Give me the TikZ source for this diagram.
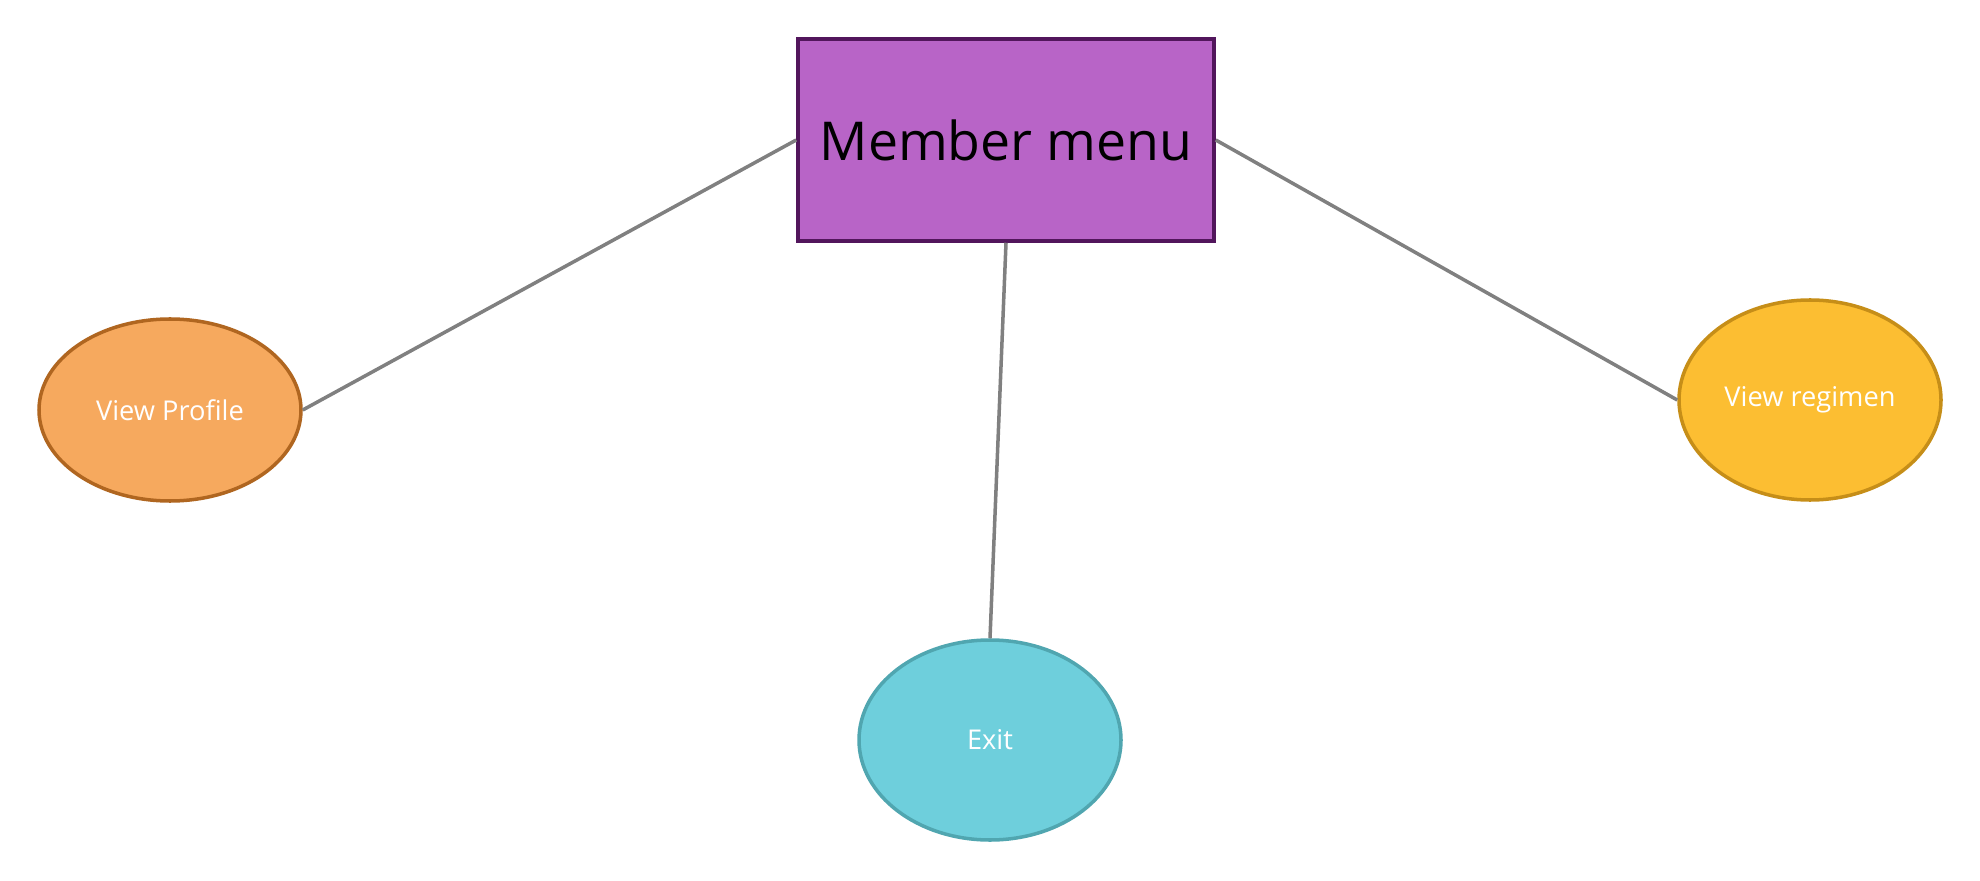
\documentclass[tikz,border=0pt]{standalone}
\usepackage{xcolor}
\usepackage{tikz}
\usepackage{fontspec}
\setmainfont{Open Sans}
\usetikzlibrary{shapes.geometric, positioning}
\definecolor{menufill}{RGB}{184, 100, 199}
\definecolor{menuedge}{RGB}{82, 22, 92}
\definecolor{profilefill}{RGB}{246, 169, 94}
\definecolor{profileedge}{RGB}{176, 102, 32}
\definecolor{regimenfill}{RGB}{252, 190, 50}
\definecolor{regimenedge}{RGB}{198, 142, 24}
\definecolor{exitfill}{RGB}{110, 207, 220}
\definecolor{exitedge}{RGB}{80, 166, 176}
\definecolor{linkgray}{RGB}{128, 128, 128}
\tikzset{
    option/.style={
        ellipse,
        line width=2pt,
        minimum width=262\px,
        minimum height=200\px,
        inner sep=0pt,
        text=white,
        font=\fontsize{15.5}{18}\selectfont
    },
    link/.style={draw=linkgray, line width=2pt}
}
\newlength{\px}
\setlength{\px}{0.02cm}

\begin{document}
\begin{tikzpicture}[x=0.02cm, y=-0.02cm]
    \useasboundingbox (0,0) rectangle (1980,881);
    % top box
    \node[
        draw=menuedge,
        fill=menufill,
        line width=2pt,
        minimum width=416\px,
        minimum height=202\px,
        inner sep=0pt,
        font=\fontsize{30.5}{36}\selectfont
    ] (menu) at (1006,140) {Member menu};

    % options
    \node[option, fill=profilefill, draw=profileedge, minimum height=182\px] (profile) at (170,410) {View Profile};
    \node[option, fill=regimenfill, draw=regimenedge] (regimen) at (1810,400) {View regimen};
    \node[option, fill=exitfill, draw=exitedge] (exit) at (990,740) {Exit};

    % links
    \draw[link] (menu.west) -- (profile.east);
    \draw[link] (menu.east) -- (regimen.west);
    \draw[link] (menu.south) -- (exit.north);
\end{tikzpicture}
\end{document}
